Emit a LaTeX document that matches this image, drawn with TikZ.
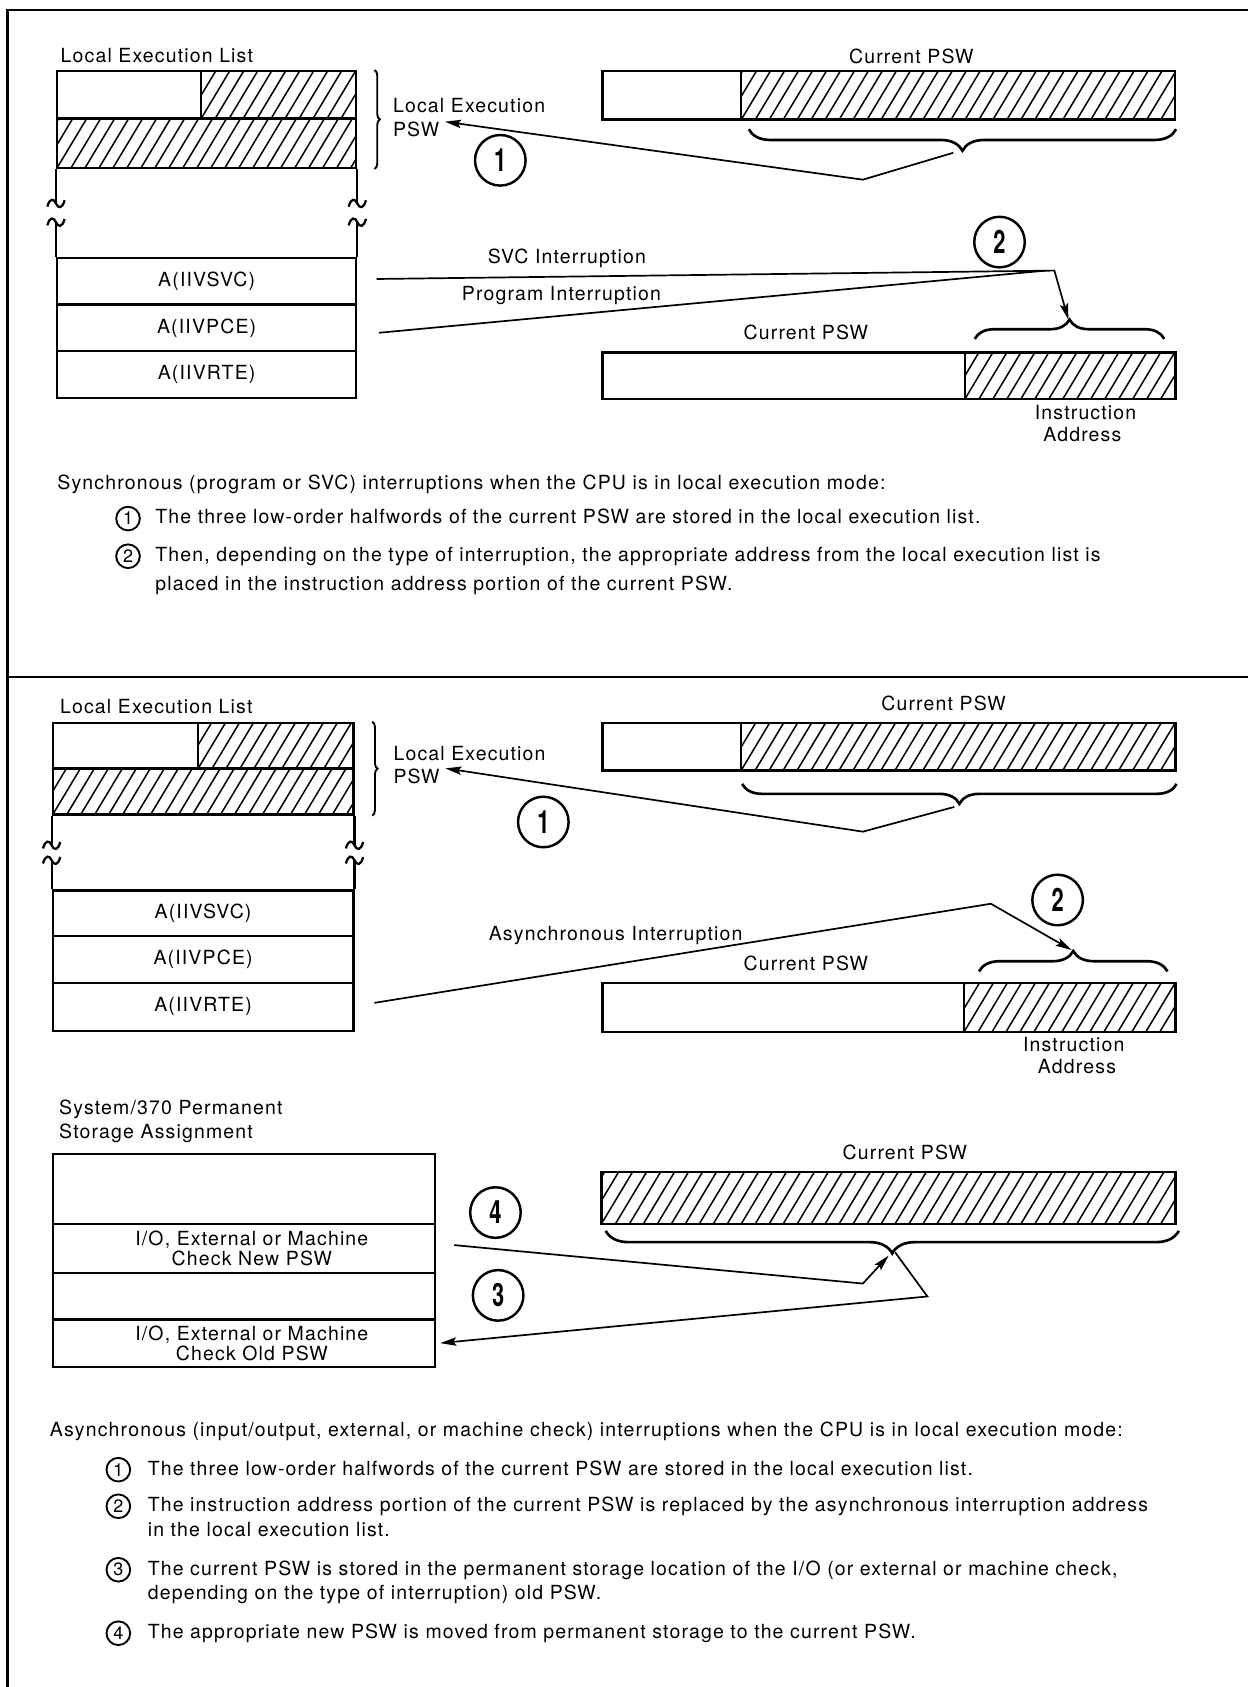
\documentclass[tikz,border=0pt]{standalone}
\usepackage{fontspec}
\setmainfont[LetterSpace=6]{TeX Gyre Heros}
\newfontfamily\numfont{TeX Gyre Heros}
\usepackage{graphicx}
\usetikzlibrary{positioning,calc,decorations.pathreplacing,arrows.meta}
\newcommand\bigdigit[1]{\scalebox{0.68}[1]{#1}}
\tikzset{
  >={Stealth[length=8.5pt,width=4.4pt,inset=1.5pt]},
  every node/.style={font=\fontsize{10.3}{12}\selectfont, inner sep=0pt},
  % --- boxes
  cell/.style 2 args={draw, line width=1.2pt, anchor=north west, inner sep=0pt,
                      minimum width=#1*0.02cm, minimum height=#2*0.02cm},
  hatch/.style={path picture={
      \foreach \k in {-3,...,43}
        \draw[line width=0.8pt] ([xshift=\k*0.26cm]path picture bounding box.south west) -- ++(30,-50);}},
  twoline/.style={align=center, font=\fontsize{10.3}{10.6}\selectfont},
  wall/.style={line width=1.2pt},
  pageframe/.style={line width=1.1pt},
  squiggle/.pic={\draw[wall] (-8,3) .. controls (-6,-5) and (-2,-5) .. (0,0)
                            .. controls (2,5) and (6,5) .. (8,-3);},
  % --- numbers
  bignum/.style={circle, draw, line width=1.3pt, minimum size=0.94cm, inner sep=0pt,
                 font=\numfont\bfseries\fontsize{17}{17}\selectfont},
  smallnum/.style={circle, draw, line width=1pt, minimum size=0.44cm, inner sep=0pt,
                   font=\numfont\fontsize{9.5}{9.5}\selectfont},
  % --- edges
  conn/.style={line width=0.9pt},
  sidebrace/.style={decorate, decoration={brace, amplitude=0.1cm}, line width=1pt},
  fieldbrace/.style={decorate, decoration={brace, amplitude=#1}, line width=1.4pt},
}
\begin{document}
\begin{tikzpicture}[x=0.02cm, y=-0.02cm]
  \useasboundingbox (0,0) rectangle (1160,1568);
  % frame
  \draw[pageframe] (1160,9) -- (7,9) -- (7,1568);
  \draw[pageframe] (7,629) -- (1160,629);

  % ===== synchronous case
  \node[anchor=base west] (lelT1) at (56,58) {Local Execution List};
  \node[cell={134}{44}] (lelA1) at (52,65) {};
  \node[cell={144}{44}, hatch] (lelB1) at (186,65) {};
  \node[cell={278}{46}, hatch] (lelC1) at (52,109) {};
  \node[cell={278}{43.5}] (svc1) at (52,238.5) {A(IIVSVC)};
  \node[cell={278}{43.5}] (pce1) at (52,282) {A(IIVPCE)};
  \node[cell={278}{43.5}] (rte1) at (52,325.5) {A(IIVRTE)};
  % broken walls
  \draw[wall] (lelC1.south west) -- ++(0,32) coordinate (brk1a);
  \draw[wall] (lelC1.south east) -- ++(0,32) coordinate (brk1b);
  \draw[wall] (svc1.north west) -- ++(0,-32) coordinate (brk1c);
  \draw[wall] (svc1.north east) -- ++(0,-32) coordinate (brk1d);
  \pic at (brk1a) {squiggle};
  \pic at (brk1b) {squiggle};
  \pic at (brk1c) {squiggle};
  \pic at (brk1d) {squiggle};
  \draw[sidebrace] ([xshift=0.32cm]lelB1.north east) -- ([xshift=0.32cm]lelC1.south east);
  \node[anchor=base west] (lepsw1a) at (365,105) {Local Execution};
  \node[anchor=base west] (lepsw1b) at (365,127) {PSW};

  \node[anchor=base] (cur1) at (847,59) {Current PSW};
  \node[cell={129}{45}] (pswA1) at (559,65) {};
  \node[cell={403}{45}, hatch] (pswB1) at (688,65) {};
  \draw[fieldbrace=0.4cm] ([yshift=-0.16cm]pswB1.south east)
        -- ([xshift=0.16cm,yshift=-0.16cm]pswB1.south west);
  \coordinate (tip1) at (886,142);
  \coordinate (bend1) at (802,167);
  \draw[conn,->] (tip1) -- (bend1) -- ([xshift=0.1cm]lepsw1b.north east);
  \node[bignum] (n1a) at (465,149) {\bigdigit{1}};

  \node[anchor=base west] (svcl) at (453,245) {SVC Interruption};
  \node[anchor=base west] (pgml) at (429,279) {Program Interruption};
  \coordinate (corner2) at (980,251.5);
  \coordinate (meet2) at (971,251.6);
  \coordinate (tip2) at (993,297);
  \draw[conn,->] ([xshift=0.36cm,yshift=0.04cm]svc1.east) -- (corner2) -- (tip2);
  \draw[conn] ([xshift=0.4cm,yshift=-0.09cm]pce1.east) -- (meet2);
  \node[bignum] (n2a) at (929,225) {\bigdigit{2}};

  \node[anchor=base] (cur2) at (749,316) {Current PSW};
  \node[cell={337}{43}] (pswA2) at (559,326.5) {};
  \node[cell={195.5}{43}, hatch] (pswB2) at (896,326.5) {};
  \draw[fieldbrace=0.36cm] ([xshift=0.2cm,yshift=0.23cm]pswB2.north west)
        -- ([xshift=-0.23cm,yshift=0.23cm]pswB2.north east);
  \node[anchor=base] (ia1a) at (1009,390) {Instruction};
  \node[anchor=base] (ia1b) at (1006,410.5) {Address};

  \node[anchor=base west] (sync) at (53,455)
    {Synchronous (program or SVC) interruptions when the CPU is in local execution mode:};
  \node[smallnum] (s1) at (119,482) {1};
  \node[anchor=base west] (s1t) at (144,487)
    {The three low-order halfwords of the current PSW are stored in the local execution list.};
  \node[smallnum] (s2) at (119,517) {2};
  \node[anchor=base west] (s2t) at (144,522)
    {Then, depending on the type of interruption, the appropriate address from the local execution list is};
  \node[anchor=base west] (s2u) at (144,548.5)
    {placed in the instruction address portion of the current PSW.};

  % ===== asynchronous case
  \node[anchor=base west] (lelT2) at (55.5,663) {Local Execution List};
  \node[cell={135}{42.5}] (lelA2) at (48,670.8) {};
  \node[cell={144.4}{42.5}, hatch] (lelB2) at (183,670.8) {};
  \node[cell={279.4}{42.8}, hatch] (lelC2) at (48,713.2) {};
  \node[cell={279.4}{42.4}] (svc2) at (48,826.6) {A(IIVSVC)};
  \node[cell={279.4}{43.4}] (pce2) at (48,869) {A(IIVPCE)};
  \node[cell={279.4}{44.9}] (rte2) at (48,912.4) {A(IIVRTE)};
  \draw[wall] (lelC2.south west) -- ++(0,27.5) coordinate (brk2a);
  \draw[wall] (lelC2.south east) -- ++(0,27.5) coordinate (brk2b);
  \draw[wall] (svc2.north west) -- ++(0,-27) coordinate (brk2c);
  \draw[wall] (svc2.north east) -- ++(0,-27) coordinate (brk2d);
  \pic at (brk2a) {squiggle};
  \pic at (brk2b) {squiggle};
  \pic at (brk2c) {squiggle};
  \pic at (brk2d) {squiggle};
  \draw[sidebrace] ([xshift=0.33cm]lelB2.north east) -- ([xshift=0.33cm]lelC2.south east);
  \node[anchor=base west] (lepsw2a) at (365.4,706.4) {Local Execution};
  \node[anchor=base west] (lepsw2b) at (365.4,728) {PSW};

  \node[anchor=base] (cur3) at (877,660) {Current PSW};
  \node[cell={128.8}{44.2}] (pswA3) at (559,670.8) {};
  \node[cell={403.7}{44.2}, hatch] (pswB3) at (687.8,670.8) {};
  \draw[fieldbrace=0.37cm] ([yshift=-0.23cm]pswB3.south east)
        -- ([xshift=0.04cm,yshift=-0.23cm]pswB3.south west);
  \coordinate (tip3) at (887,750);
  \coordinate (bend3) at (802,773);
  \draw[conn,->] (tip3) -- (bend3) -- ([xshift=0.1cm]lepsw2b.north east);
  \node[bignum] (n1b) at (505,764) {\bigdigit{1}};

  \node[anchor=base west] (asyl) at (454,873.7) {Asynchronous Interruption};
  \coordinate (corner4) at (921,840);
  \coordinate (tip4) at (996,883);
  \draw[conn,->] ([xshift=0.37cm,yshift=0.076cm]rte2.east) -- (corner4) -- (tip4);
  \node[bignum] (n2b) at (983,836.5) {\bigdigit{2}};

  \node[anchor=base] (cur4) at (749,901.6) {Current PSW};
  \node[cell={336}{45.6}] (pswA4) at (559,912.4) {};
  \node[cell={196.5}{45.6}, hatch] (pswB4) at (895,912.4) {};
  \draw[fieldbrace=0.38cm] ([xshift=0.3cm,yshift=0.19cm]pswB4.north west)
        -- ([xshift=-0.17cm,yshift=0.19cm]pswB4.north east);
  \node[anchor=base] (ia2a) at (998,977.5) {Instruction};
  \node[anchor=base] (ia2b) at (1001,997.6) {Address};

  % permanent storage
  \node[anchor=base west] (permT1) at (54.7,1036.3) {System/370 Permanent};
  \node[anchor=base west] (permT2) at (54.7,1058) {Storage Assignment};
  \node[cell={355}{65.1}] (perm0) at (48,1071.3) {};
  \node[cell={355}{45.6}] (newpsw) at (48,1136.4) {};
  \node[cell={355}{43.3}] (perm2) at (48,1182) {};
  \node[cell={355}{44}] (oldpsw) at (48,1225.3) {};
  \node[twoline] (newpswT) at ([xshift=0.15cm]newpsw.center) {I/O, External or Machine\\Check New PSW};
  \node[twoline] (oldpswT) at ([xshift=0.15cm]oldpsw.center) {I/O, External or Machine\\Check Old PSW};
  \node[bignum] (n4) at (460.5,1127) {\bigdigit{4}};
  \node[bignum] (n3) at (463,1204) {\bigdigit{3}};

  \node[anchor=base] (cur5) at (841,1077.5) {Current PSW};
  \node[cell={533.5}{48.4}, hatch] (pswC5) at (558,1088) {};
  \draw[fieldbrace=0.42cm] ([xshift=0.04cm,yshift=-0.11cm]pswC5.south east)
        -- ([xshift=0.1cm,yshift=-0.11cm]pswC5.south west);
  \coordinate (bend5) at (802,1193);
  \coordinate (in5) at (826,1167);
  \coordinate (out5) at (832,1164);
  \coordinate (bend6) at (862,1205);
  \draw[conn,->] ([xshift=0.34cm,yshift=0.06cm]newpsw.east) -- (bend5) -- (in5);
  \draw[conn,->] (out5) -- (bend6) -- ([xshift=0.08cm]oldpsw.east);

  \node[anchor=base west] (async) at (46,1335)
    {Asynchronous (input/output, external, or machine check) interruptions when the CPU is in local execution mode:};
  \node[smallnum] (a1) at (110,1366) {1};
  \node[anchor=base west] (a1t) at (137,1371)
    {The three low-order halfwords of the current PSW are stored in the local execution list.};
  \node[smallnum] (a2) at (110,1400) {2};
  \node[anchor=base west] (a2t) at (137,1405)
    {The instruction address portion of the current PSW is replaced by the asynchronous interruption address};
  \node[anchor=base west] (a2u) at (137,1428.3) {in the local execution list.};
  \node[smallnum] (a3) at (110,1459) {3};
  \node[anchor=base west] (a3t) at (137,1464)
    {The current PSW is stored in the permanent storage location of the I/O (or external or machine check,};
  \node[anchor=base west] (a3u) at (137,1487) {depending on the type of interruption) old PSW.};
  \node[smallnum] (a4) at (110,1518) {4};
  \node[anchor=base west] (a4t) at (137,1522.7)
    {The appropriate new PSW is moved from permanent storage to the current PSW.};
\end{tikzpicture}
\end{document}
